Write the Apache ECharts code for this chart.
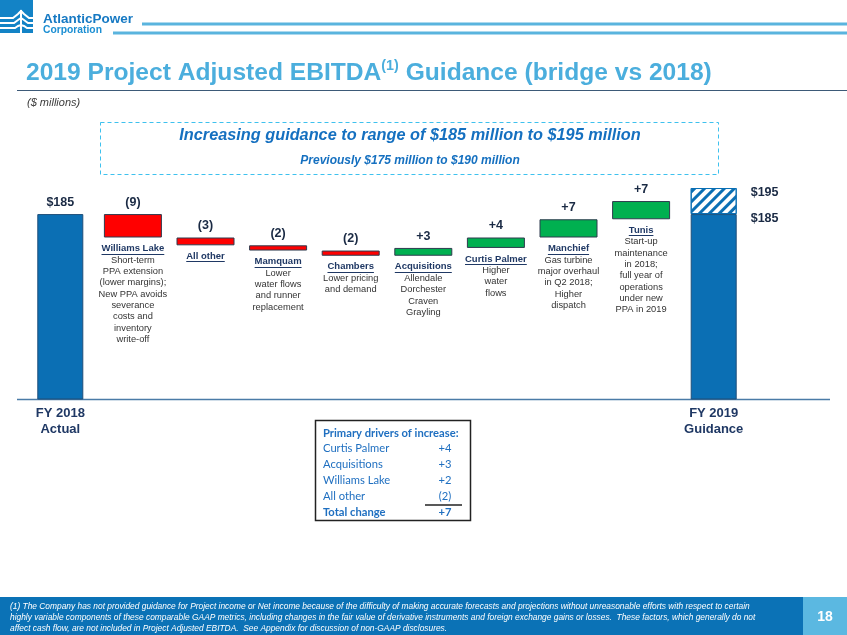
<!DOCTYPE html>
<html><head><meta charset="utf-8">
<script src="https://cdn.jsdelivr.net/npm/echarts@6/dist/echarts.min.js"></script>
<style>html,body{margin:0;padding:0;background:#fff}#c{width:847px;height:635px}</style>
</head><body><div id="c"></div>
<script>
// ---------- data ----------
const categories = ['FY 2018','Williams Lake','All other','Mamquam','Chambers','Acquisitions','Curtis Palmer','Manchief','Tunis','FY 2019'];
const axisLabels = ['FY 2018\nActual','','','','','','','','','FY 2019\nGuidance'];
const startValue = 185;
const deltas = [-9, -3, -2, -2, 3, 4, 7, 7];
const guidanceLow = 185;
const guidanceHigh = 195;
const descriptions = [
  [],
  ['Short-term','PPA extension','(lower margins);','New PPA avoids','severance','costs and','inventory','write-off'],
  [],
  ['Lower','water flows','and runner','replacement'],
  ['Lower pricing','and demand'],
  ['Allendale','Dorchester','Craven','Grayling'],
  ['Higher','water','flows'],
  ['Gas turbine','major overhaul','in Q2 2018;','Higher','dispatch'],
  ['Start-up','maintenance','in 2018;','full year of','operations','under new','PPA in 2019'],
  []
];
const driverNames = ['Curtis Palmer','Acquisitions','Williams Lake','All other'];
const driverValues = ['+4','+3','+2','(2)'];
const totalChange = '+7';
const footnote = [
  '(1) The Company has not provided guidance for Project income or Net income because of the difficulty of making accurate forecasts and projections without unreasonable efforts with respect to certain',
  'highly variable components of these comparable GAAP metrics, including changes in the fair value of derivative instruments and foreign exchange gains or losses.  These factors, which generally do not',
  'affect cash flow, are not included in Project Adjusted EBITDA.  See Appendix for discussion of non-GAAP disclosures.'
];

// ---------- derived waterfall ----------
const baseData = ['-'], sizeData = ['-'];
let run = startValue;
deltas.forEach(d => { const nx = run + d; baseData.push(Math.min(run, nx)); sizeData.push(Math.abs(d)); run = nx; });
baseData.push('-'); sizeData.push('-');
const fyData = categories.map((c, i) => i === 0 ? startValue : (i === categories.length - 1 ? guidanceLow : '-'));
const rangeData = categories.map((c, i) => i === categories.length - 1 ? guidanceHigh - guidanceLow : '-');

const FONT = '"Liberation Sans", Arial, sans-serif';
const NAVY = '#1F3864';
const BLUE = '#0B6FB4';
const fmtDelta = d => d < 0 ? '(' + (-d) + ')' : '+' + d;

const chart = echarts.init(document.getElementById('c'), null, {renderer: 'canvas'});

const option = {
  animation: false,
  backgroundColor: '#fff',
  grid: {left: 24, right: 97, top: 175, bottom: 236},
  xAxis: [
    {type: 'category', data: categories, gridIndex: 0, axisLine: {show: false}, axisTick: {show: false}, axisLabel: {show: false}},
    {type: 'category', data: categories, gridIndex: 0, position: 'bottom', axisLine: {show: false}, axisTick: {show: false},
     axisLabel: {interval: 0, margin: 6, formatter: (v, i) => axisLabels[i], fontFamily: FONT, fontWeight: 'bold', fontSize: 13, lineHeight: 16, color: NAVY}}
  ],
  yAxis: {type: 'value', min: 114, max: 200, show: false, splitLine: {show: false}},
  series: [
    {
      name: 'base', type: 'bar', xAxisIndex: 0, stack: 'w', barWidth: 58, silent: true,
      itemStyle: {color: 'rgba(0,0,0,0)'},
      data: baseData,
      label: {
        show: true, position: 'insideTop', distance: 5, align: 'center',
        formatter: p => {
          const lines = ['{h|' + categories[p.dataIndex] + '}'];
          descriptions[p.dataIndex].forEach(t => lines.push('{d|' + t + '}'));
          return lines.join('\n');
        },
        rich: {
          h: {fontFamily: FONT, fontWeight: 'bold', fontSize: 9.5, lineHeight: 12, color: NAVY, align: 'center'},
          d: {fontFamily: FONT, fontSize: 9.3, lineHeight: 11.3, color: '#333', align: 'center'}
        }
      }
    },
    {
      name: 'delta', type: 'bar', xAxisIndex: 0, stack: 'w', barWidth: 58,
      data: sizeData.map((v, i) => v === '-' ? '-' : {value: v, itemStyle: {color: deltas[i - 1] < 0 ? '#FF0000' : '#00B050'}}),
      itemStyle: {borderColor: '#2E3B4E', borderWidth: 1},
      label: {show: true, position: 'top', distance: 5, formatter: p => fmtDelta(deltas[p.dataIndex - 1]),
              fontFamily: FONT, fontWeight: 'bold', fontSize: 12.5, color: '#1A2A44'}
    },
    {
      name: 'fy', type: 'bar', xAxisIndex: 1, stack: 'g', barWidth: 46,
      itemStyle: {color: BLUE, borderColor: '#1F4E79', borderWidth: 1},
      data: fyData.map((v, i) => {
        if (v === '-') return '-';
        if (i === 0) return {value: v, label: {show: true, position: 'top', distance: 5}};
        return {value: v, label: {show: true, position: ['100%', 0], offset: [14, 4], align: 'left', verticalAlign: 'middle'}};
      }),
      label: {formatter: p => '$' + p.value, fontFamily: FONT, fontWeight: 'bold', fontSize: 12.5, color: '#1A2A44'}
    },
    {
      name: 'range', type: 'bar', xAxisIndex: 1, stack: 'g', barWidth: 46,
      itemStyle: {color: '#fff', borderColor: BLUE, borderWidth: 1,
        decal: {symbol: 'rect', symbolSize: 1, dashArrayX: [1, 0], dashArrayY: [3, 4], rotation: -Math.PI / 4, color: BLUE}},
      data: rangeData,
      label: {show: true, position: ['100%', 0], offset: [14, 5], align: 'left', verticalAlign: 'middle',
              formatter: () => '$' + guidanceHigh, fontFamily: FONT, fontWeight: 'bold', fontSize: 12.5, color: '#1A2A44'}
    }
  ]
};
chart.setOption(option);

// ---------- slide chrome & annotations ----------
const g = [];
// logo
g.push({type: 'rect', shape: {x: 0, y: 0, width: 33, height: 33}, style: {fill: '#1383C6'}, silent: true});
[[18, 2], [23, 2], [28, 2]].forEach(([yy, w], k) => {
  g.push({type: 'polyline', shape: {points: [[0, yy], [13 + k, yy], [18, yy - 4 + k], [21, yy - 7 + 2 * k], [24, yy - 4 + k], [29 - k, yy], [33, yy]]},
          style: {stroke: '#fff', lineWidth: w, fill: null}, silent: true});
});
g.push({type: 'line', shape: {x1: 21, y1: 10, x2: 21, y2: 33}, style: {stroke: '#fff', lineWidth: 2}, silent: true});
g.push({type: 'text', x: 43, y: 19, style: {text: 'AtlanticPower', fontFamily: FONT, fontWeight: 'bold', fontSize: 13.5, fill: '#1679C3', verticalAlign: 'middle'}, silent: true});
g.push({type: 'text', x: 43, y: 30.5, style: {text: 'Corporation', fontFamily: FONT, fontWeight: 'bold', fontSize: 10.3, fill: '#1C8FD3', verticalAlign: 'middle'}, silent: true});
g.push({type: 'rect', shape: {x: 142, y: 22.5, width: 705, height: 3}, style: {fill: '#5AB4DE'}, silent: true});
g.push({type: 'rect', shape: {x: 113, y: 31.5, width: 734, height: 3}, style: {fill: '#5AB4DE'}, silent: true});
// title
g.push({type: 'text', x: 26, y: 73, style: {
  text: '{t|2019 Project Adjusted EBITDA}{s|(1)}{t| Guidance (bridge vs 2018)}',
  verticalAlign: 'middle',
  rich: {t: {fontFamily: FONT, fontWeight: 'bold', fontSize: 24.6, fill: '#4BAEDD', lineHeight: 28},
         s: {fontFamily: FONT, fontWeight: 'bold', fontSize: 14.3, fill: '#4BAEDD', lineHeight: 28, verticalAlign: 'top', padding: [0, 0, 9, 0]}}
}, silent: true});
g.push({type: 'line', shape: {x1: 17, y1: 90.5, x2: 847, y2: 90.5}, style: {stroke: '#3D5A78', lineWidth: 1}, silent: true});
g.push({type: 'text', x: 27, y: 103, style: {text: '($ millions)', fontFamily: FONT, fontStyle: 'italic', fontSize: 11, fill: '#404040', verticalAlign: 'middle'}, silent: true});
// dashed box
g.push({type: 'rect', shape: {x: 100.5, y: 122.5, width: 618, height: 52}, style: {fill: null, stroke: '#3EC1EE', lineWidth: 1, lineDash: [4, 3]}, silent: true});
g.push({type: 'text', x: 410, y: 136, style: {text: 'Increasing guidance to range of $185 million to $195 million', fontFamily: FONT, fontWeight: 'bold', fontStyle: 'italic', fontSize: 16.3, fill: '#1570C0', align: 'center', verticalAlign: 'middle'}, silent: true});
g.push({type: 'text', x: 410, y: 161, style: {text: 'Previously $175 million to $190 million', fontFamily: FONT, fontWeight: 'bold', fontStyle: 'italic', fontSize: 12, fill: '#1570C0', align: 'center', verticalAlign: 'middle'}, silent: true});
// axis line
g.push({type: 'line', shape: {x1: 17, y1: 399.5, x2: 830, y2: 399.5}, style: {stroke: '#4A7BA7', lineWidth: 1.3}, silent: true});
// table
const TF = 'Lato, "Open Sans", sans-serif';
const TB = '#1F6FC0';
g.push({type: 'rect', shape: {x: 315.5, y: 420.5, width: 155, height: 100}, style: {fill: '#fff', stroke: '#222', lineWidth: 1.5}, silent: true});
g.push({type: 'text', x: 323, y: 433, style: {text: 'Primary drivers of increase:', fontFamily: TF, fontWeight: 'bold', fontSize: 11.2, fill: TB, verticalAlign: 'middle'}, silent: true});
driverNames.forEach((n, i) => {
  const yy = 448.5 + i * 16;
  g.push({type: 'text', x: 323, y: yy, style: {text: n, fontFamily: TF, fontSize: 11.2, fill: TB, verticalAlign: 'middle'}, silent: true});
  g.push({type: 'text', x: 445, y: yy, style: {text: driverValues[i], fontFamily: TF, fontSize: 11.2, fill: TB, align: 'center', verticalAlign: 'middle'}, silent: true});
});
g.push({type: 'line', shape: {x1: 425, y1: 505, x2: 462, y2: 505}, style: {stroke: '#222', lineWidth: 1.5}, silent: true});
g.push({type: 'text', x: 323, y: 512.5, style: {text: 'Total change', fontFamily: TF, fontWeight: 'bold', fontSize: 11.2, fill: TB, verticalAlign: 'middle'}, silent: true});
g.push({type: 'text', x: 445, y: 512.5, style: {text: totalChange, fontFamily: TF, fontWeight: 'bold', fontSize: 11.2, fill: TB, align: 'center', verticalAlign: 'middle'}, silent: true});
// footer
g.push({type: 'rect', shape: {x: 0, y: 597, width: 803, height: 38}, style: {fill: '#0B72B6'}, silent: true});
g.push({type: 'rect', shape: {x: 803, y: 597, width: 44, height: 38}, style: {fill: '#5BB8E1'}, silent: true});
g.push({type: 'text', x: 825, y: 617, style: {text: '18', fontFamily: FONT, fontWeight: 'bold', fontSize: 14, fill: '#fff', align: 'center', verticalAlign: 'middle'}, silent: true});
g.push({type: 'text', x: 10, y: 601.5, style: {text: footnote.join('\n'), fontFamily: FONT, fontStyle: 'italic', fontSize: 8.4, lineHeight: 11, fill: '#fff'}, silent: true});

// underlines for bar titles (positioned from the chart's own scales)
const ctx = document.createElement('canvas').getContext('2d');
ctx.font = 'bold 9.5px ' + FONT;
for (let i = 1; i <= deltas.length; i++) {
  const px = chart.convertToPixel({xAxisIndex: 0}, i);
  const py = chart.convertToPixel({yAxisIndex: 0}, baseData[i]);
  const w = ctx.measureText(categories[i]).width;
  const uy = Math.round(py + 5 + 11) + 0.5;
  g.push({type: 'line', shape: {x1: px - w / 2, y1: uy, x2: px + w / 2, y2: uy}, style: {stroke: NAVY, lineWidth: 1}, silent: true});
}
chart.setOption({graphic: g});
</script>
</body></html>
